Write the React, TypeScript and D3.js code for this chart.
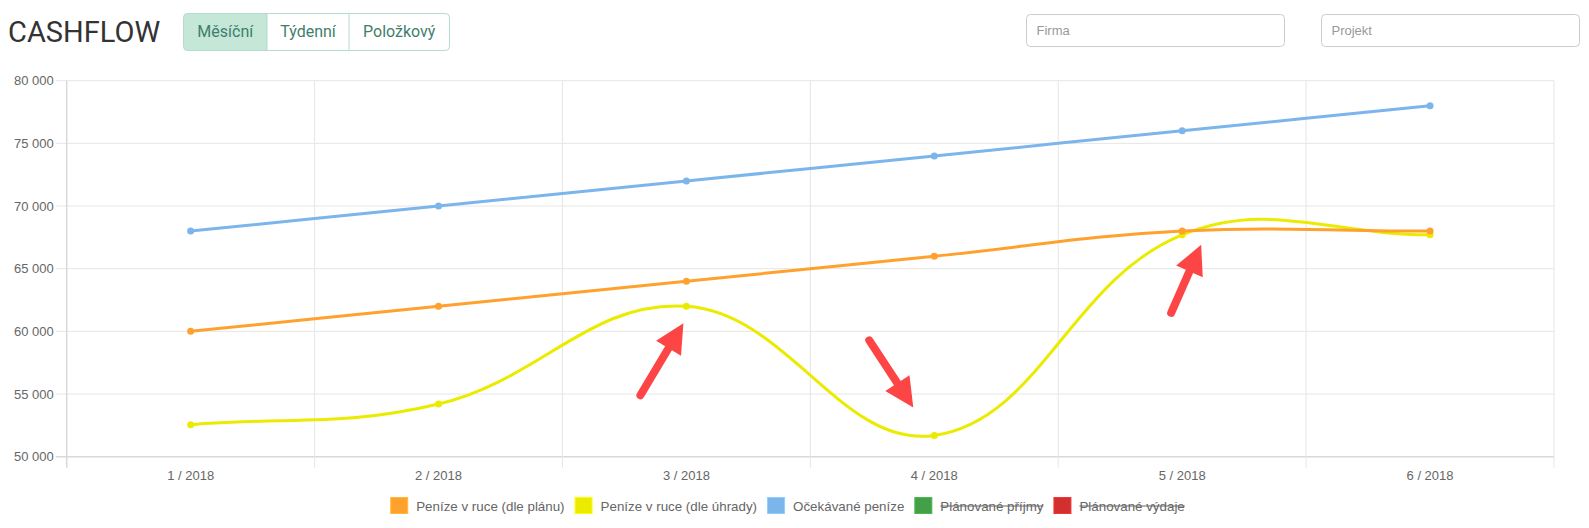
import React, { useMemo } from 'react';
import * as d3 from 'd3';

// Monthly cashflow series
const months = ['1 / 2018', '2 / 2018', '3 / 2018', '4 / 2018', '5 / 2018', '6 / 2018'];
const plannedCash = [60000, 62000, 64000, 66000, 68000, 68000];
const paidCash = [52550, 54200, 62000, 51700, 67700, 67700];
const expectedCash = [68000, 70000, 72000, 74000, 76000, 78000];
const yTicks = [50000, 55000, 60000, 65000, 70000, 75000, 80000];

const legendLabels = [
  'Peníze v ruce (dle plánu)',
  'Peníze v ruce (dle úhrady)',
  'Očekávané peníze',
  'Plánované příjmy',
  'Plánované výdaje',
];
const legendColors = ['#ffa12e', '#ebeb00', '#7cb5ec', '#43a047', '#d32f2f'];
const legendHidden = [false, false, false, true, true];

const viewButtons = ['Měsíční', 'Týdenní', 'Položkový'];
const filterInputs = ['Firma', 'Projekt'];

// Callouts: which point of the "paid" series they point at, tip and tail offsets
const callouts = [
  { index: 2, tip: [-3, 17], tail: [-46, 89] },
  { index: 3, tip: [-21, -28], tail: [-65, -95] },
  { index: 4, tip: [19, 10], tail: [-11, 78] },
];

const W = 1589;
const H = 528;
const chart = { left: 66.7, right: 1554, top: 80.7, bottom: 456.7 };
const FONT = '"Liberation Sans", Arial, Helvetica, sans-serif';
const LEGEND_FONT_SIZE = 13.35;

// Bezier smoothing with the same control-point rule as Chart.js (tension 0.4)
function splinePath(pts: [number, number][], t = 0.4): string {
  const cps = pts.map((cur, i) => {
    const prev = pts[i - 1] ?? cur;
    const next = pts[i + 1] ?? cur;
    const d01 = Math.hypot(cur[0] - prev[0], cur[1] - prev[1]);
    const d12 = Math.hypot(next[0] - cur[0], next[1] - cur[1]);
    const s = d01 + d12;
    const fa = s ? (t * d01) / s : 0;
    const fb = s ? (t * d12) / s : 0;
    return {
      before: [cur[0] - fa * (next[0] - prev[0]), cur[1] - fa * (next[1] - prev[1])],
      after: [cur[0] + fb * (next[0] - prev[0]), cur[1] + fb * (next[1] - prev[1])],
    };
  });
  const p = d3.path();
  p.moveTo(pts[0][0], pts[0][1]);
  for (let i = 1; i < pts.length; i++) {
    const a = cps[i - 1].after;
    const b = cps[i].before;
    p.bezierCurveTo(a[0], a[1], b[0], b[1], pts[i][0], pts[i][1]);
  }
  return p.toString();
}

function measure(text: string, font: string): number {
  const c = document.createElement('canvas').getContext('2d');
  if (!c) return text.length * 6.5;
  c.font = font;
  return c.measureText(text).width;
}

export default function App() {
  const x = d3.scaleBand<string>().domain(months).range([chart.left, chart.right]);
  const y = d3.scaleLinear().domain([50000, 80000]).range([chart.bottom, chart.top]);
  const cx = (m: string) => (x(m) as number) + x.bandwidth() / 2;

  const series = [
    { values: expectedCash, color: '#7cb5ec' },
    { values: paidCash, color: '#ebeb00' },
    { values: plannedCash, color: '#ffa12e' },
  ];

  const legend = useMemo(() => {
    const boxW = 18;
    const gap = 8;
    const itemGap = 10;
    const widths = legendLabels.map(
      (l) => boxW + gap + measure(l, `${LEGEND_FONT_SIZE}px ${FONT}`)
    );
    const total = d3.sum(widths) + itemGap * (widths.length - 1);
    let pos = 787.5 - total / 2;
    return legendLabels.map((label, i) => {
      const item = { label, x: pos, textW: widths[i] - boxW - gap, boxW, gap };
      pos += widths[i] + itemGap;
      return item;
    });
  }, []);

  const boundaries = [...months.map((m) => x(m) as number), chart.right];

  // button group geometry
  const btnX = [183.5, 267, 349, 449.5];

  return (
    <svg
      width={W}
      height={H}
      style={{ position: 'absolute', left: 0, top: 0, background: '#fff' }}
      fontFamily={FONT}
    >
      {/* header */}
      <text x={8} y={41.5} fontFamily="Roboto, sans-serif" fontSize={29} fill="#333">
        CASHFLOW
      </text>
      <rect x={btnX[0]} y={13.5} width={btnX[3] - btnX[0]} height={37} rx={4} fill="#fff" />
      <path
        d={`M${btnX[0] + 4},13.5 H${btnX[1]} V50.5 H${btnX[0] + 4} a4,4 0 0 1 -4,-4 V17.5 a4,4 0 0 1 4,-4 Z`}
        fill="#c4e7d8"
      />
      <rect
        x={btnX[0]}
        y={13.5}
        width={btnX[3] - btnX[0]}
        height={37}
        rx={4}
        fill="none"
        stroke="#b3dccb"
      />
      {btnX.slice(1, 3).map((bx) => (
        <line key={bx} x1={bx} x2={bx} y1={13.5} y2={50.5} stroke="#b3dccb" />
      ))}
      {viewButtons.map((b, i) => (
        <text
          key={b}
          x={(btnX[i] + btnX[i + 1]) / 2}
          y={37}
          textAnchor="middle"
          fontFamily="Roboto, sans-serif"
          fontSize={16}
          fill="#3f7e6d"
        >
          {b}
        </text>
      ))}
      {filterInputs.map((label, i) => {
        const ix = i === 0 ? 1026.5 : 1321.5;
        return (
          <g key={label}>
            <rect x={ix} y={14.5} width={258} height={32} rx={4} fill="#fff" stroke="#cccccc" />
            <text x={ix + 10} y={35} fontSize={13} fill="#999">
              {label}
            </text>
          </g>
        );
      })}

      {/* horizontal grid + y labels */}
      {yTicks.map((t) => (
        <g key={t}>
          <line
            x1={chart.left - 11}
            x2={chart.right}
            y1={y(t)}
            y2={y(t)}
            stroke={t === 50000 ? '#d9d9d9' : '#e6e6e6'}
            strokeWidth={t === 50000 ? 1.5 : 1}
          />
          <text x={chart.left - 13} y={y(t)} dy="0.35em" textAnchor="end" fontSize={13} fill="#666">
            {d3.format(',')(t).replace(/,/g, ' ')}
          </text>
        </g>
      ))}
      {/* vertical grid at category boundaries */}
      {boundaries.map((bx, i) => (
        <line
          key={i}
          x1={bx}
          x2={bx}
          y1={chart.top}
          y2={chart.bottom + 11}
          stroke={i === 0 ? '#d9d9d9' : '#e6e6e6'}
          strokeWidth={i === 0 ? 1.5 : 1}
        />
      ))}
      {months.map((m) => (
        <text key={m} x={cx(m)} y={475} dy="0.35em" textAnchor="middle" fontSize={13} fill="#666">
          {m}
        </text>
      ))}

      {/* lines and points */}
      {series.map((s, si) => {
        const pts = s.values.map((v, i) => [cx(months[i]), y(v)] as [number, number]);
        return (
          <g key={si}>
            <path d={splinePath(pts)} fill="none" stroke={s.color} strokeWidth={3} />
            {pts.map((p, i) => (
              <circle key={i} cx={p[0]} cy={p[1]} r={3.5} fill={s.color} />
            ))}
          </g>
        );
      })}

      {/* callout arrows */}
      {callouts.map((c, i) => {
        const px = cx(months[c.index]);
        const py = y(paidCash[c.index]);
        const tip = [px + c.tip[0], py + c.tip[1]];
        const tail = [px + c.tail[0], py + c.tail[1]];
        const dx = tip[0] - tail[0];
        const dy = tip[1] - tail[1];
        const len = Math.hypot(dx, dy);
        const ux = dx / len;
        const uy = dy / len;
        const headLen = 29;
        const half = 14.5;
        const base = [tip[0] - ux * headLen, tip[1] - uy * headLen];
        const w1 = [base[0] - uy * half, base[1] + ux * half];
        const w2 = [base[0] + uy * half, base[1] - ux * half];
        return (
          <g key={i} fill="#fd4545" stroke="#fd4545">
            <line
              x1={tail[0]}
              y1={tail[1]}
              x2={base[0] + ux * 4}
              y2={base[1] + uy * 4}
              strokeWidth={8}
              strokeLinecap="round"
            />
            <polygon points={`${tip.join(',')} ${w1.join(',')} ${w2.join(',')}`} stroke="none" />
          </g>
        );
      })}

      {/* legend */}
      {legend.map((it, i) => (
        <g key={it.label}>
          <rect
            x={it.x + 0.5}
            y={497.5}
            width={it.boxW - 1}
            height={16}
            fill={legendColors[i]}
            stroke={d3.color(legendColors[i])?.brighter(0.4).toString()}
          />
          <text
            x={it.x + it.boxW + it.gap}
            y={506}
            dy="0.35em"
            fontSize={LEGEND_FONT_SIZE}
            fill="#666"
          >
            {it.label}
          </text>
          {legendHidden[i] && (
            <line
              x1={it.x + it.boxW + it.gap}
              x2={it.x + it.boxW + it.gap + it.textW}
              y1={506}
              y2={506}
              stroke="#666"
              strokeWidth={1}
            />
          )}
        </g>
      ))}
    </svg>
  );
}
